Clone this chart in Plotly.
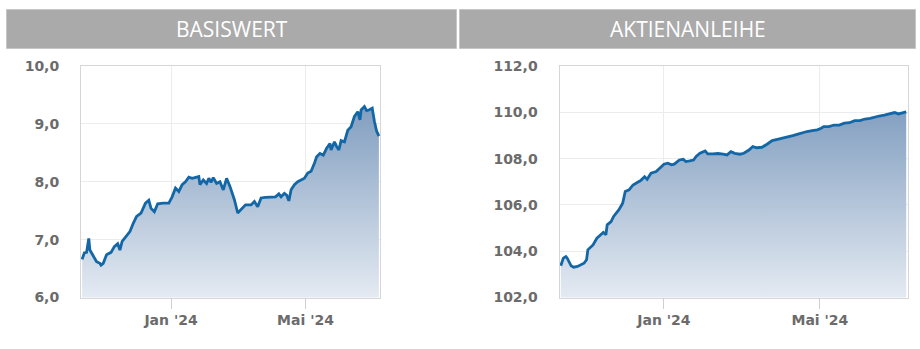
import plotly.graph_objects as go

# ---------------- data ----------------
basis_dates = [
    "2023-10-13", "2023-10-15", "2023-10-17", "2023-10-19", "2023-10-20", "2023-10-23",
    "2023-10-26", "2023-10-29", "2023-10-30", "2023-11-01", "2023-11-04", "2023-11-08",
    "2023-11-11", "2023-11-14", "2023-11-16", "2023-11-18", "2023-11-21", "2023-11-25",
    "2023-11-28", "2023-12-01", "2023-12-05", "2023-12-09", "2023-12-12", "2023-12-14",
    "2023-12-17", "2023-12-20", "2023-12-25", "2023-12-30", "2024-01-02", "2024-01-05",
    "2024-01-08", "2024-01-11", "2024-01-14", "2024-01-17", "2024-01-20", "2024-01-23",
    "2024-01-26", "2024-01-27", "2024-01-30", "2024-02-02", "2024-02-04", "2024-02-06",
    "2024-02-08", "2024-02-11", "2024-02-14", "2024-02-17", "2024-02-20", "2024-02-23",
    "2024-02-27", "2024-03-01", "2024-03-04", "2024-03-08", "2024-03-13", "2024-03-16",
    "2024-03-19", "2024-03-22", "2024-03-26", "2024-03-31", "2024-04-04", "2024-04-07",
    "2024-04-09", "2024-04-12", "2024-04-14", "2024-04-16", "2024-04-18", "2024-04-21",
    "2024-04-24", "2024-04-27", "2024-04-30", "2024-05-03", "2024-05-06", "2024-05-09",
    "2024-05-11", "2024-05-14", "2024-05-17", "2024-05-20", "2024-05-23", "2024-05-24",
    "2024-05-27", "2024-05-29", "2024-05-31", "2024-06-02", "2024-06-05", "2024-06-08",
    "2024-06-11", "2024-06-14", "2024-06-17", "2024-06-19", "2024-06-20", "2024-06-23",
    "2024-06-25", "2024-06-27", "2024-06-30", "2024-07-02", "2024-07-04", "2024-07-06",
]
basis_values = [
    6.66, 6.77, 6.78, 7.02, 6.82, 6.71,
    6.62, 6.59, 6.56, 6.59, 6.74, 6.78,
    6.88, 6.93, 6.82, 6.97, 7.04, 7.14,
    7.28, 7.40, 7.46, 7.63, 7.68, 7.54,
    7.48, 7.62, 7.63, 7.63, 7.74, 7.89,
    7.83, 7.95, 8.00, 8.08, 8.06, 8.08,
    8.09, 7.95, 8.03, 7.97, 8.06, 7.99,
    8.07, 7.97, 8.00, 7.86, 8.06, 7.92,
    7.69, 7.46, 7.52, 7.60, 7.60, 7.66,
    7.57, 7.72, 7.73, 7.74, 7.74, 7.79,
    7.74, 7.80, 7.77, 7.67, 7.86, 7.95,
    8.00, 8.03, 8.06, 8.15, 8.18, 8.32,
    8.43, 8.49, 8.46, 8.58, 8.66, 8.55,
    8.69, 8.61, 8.55, 8.71, 8.69, 8.89,
    8.95, 9.13, 9.21, 9.07, 9.24, 9.30,
    9.23, 9.24, 9.27, 9.04, 8.87, 8.79,
]

anleihe_dates = [
    "2023-10-13", "2023-10-15", "2023-10-17", "2023-10-18", "2023-10-21", "2023-10-23",
    "2023-10-26", "2023-10-28", "2023-10-31", "2023-11-02", "2023-11-03", "2023-11-07",
    "2023-11-10", "2023-11-13", "2023-11-15", "2023-11-17", "2023-11-18", "2023-11-21",
    "2023-11-23", "2023-11-25", "2023-11-27", "2023-11-30", "2023-12-02", "2023-12-05",
    "2023-12-08", "2023-12-11", "2023-12-14", "2023-12-17", "2023-12-19", "2023-12-22",
    "2023-12-26", "2023-12-30", "2024-01-01", "2024-01-04", "2024-01-07", "2024-01-09",
    "2024-01-13", "2024-01-16", "2024-01-18", "2024-01-21", "2024-01-24", "2024-01-26",
    "2024-01-29", "2024-02-02", "2024-02-04", "2024-02-08", "2024-02-12", "2024-02-16",
    "2024-02-19", "2024-02-22", "2024-02-25", "2024-02-29", "2024-03-03", "2024-03-07",
    "2024-03-10", "2024-03-13", "2024-03-17", "2024-03-21", "2024-03-25", "2024-03-29",
    "2024-04-02", "2024-04-06", "2024-04-10", "2024-04-14", "2024-04-17", "2024-04-21",
    "2024-04-25", "2024-04-29", "2024-05-02", "2024-05-04", "2024-05-08", "2024-05-12",
    "2024-05-16", "2024-05-20", "2024-05-24", "2024-05-28", "2024-06-01", "2024-06-05",
    "2024-06-09", "2024-06-13", "2024-06-16", "2024-06-20", "2024-06-24", "2024-06-28",
    "2024-07-01", "2024-07-03", "2024-07-07",
]
anleihe_values = [
    103.37, 103.70, 103.77, 103.70, 103.37, 103.31,
    103.34, 103.41, 103.48, 103.63, 104.06, 104.27,
    104.56, 104.71, 104.81, 104.71, 105.14, 105.28,
    105.50, 105.64, 105.78, 106.07, 106.58, 106.65,
    106.86, 106.96, 107.05, 107.22, 107.11, 107.37,
    107.44, 107.65, 107.76, 107.80, 107.73, 107.76,
    107.94, 107.97, 107.87, 107.90, 107.94, 108.09,
    108.23, 108.33, 108.20, 108.20, 108.22, 108.19,
    108.16, 108.30, 108.23, 108.19, 108.23, 108.37,
    108.52, 108.47, 108.49, 108.62, 108.78, 108.83,
    108.88, 108.92, 108.99, 109.06, 109.12, 109.17,
    109.21, 109.24, 109.31, 109.38, 109.38, 109.45,
    109.45, 109.53, 109.55, 109.64, 109.64, 109.71,
    109.74, 109.81, 109.84, 109.88, 109.93, 109.99,
    109.93, 109.96, 110.02,
]

panel_titles = ["BASISWERT", "AKTIENANLEIHE"]
x_tick_vals = ["2024-01-01", "2024-05-01"]
x_tick_text = ["Jan '24", "Mai '24"]
basis_y_ticks = [6, 7, 8, 9, 10]
anleihe_y_ticks = [102, 104, 106, 108, 110, 112]

# ---------------- style ----------------
W, H = 920, 349
LINE = "#1467a6"
GRID = "#ececec"
BORDER = "#d6d6d6"
TICKFONT = dict(family="DejaVu Sans", size=14, color="#6b6b6b", weight="bold")

def px_x(p):
    return p / W

def px_y(p):
    return 1 - p / H

fig = go.Figure()

grad_dark = "rgb(108,142,181)"
grad_light = "rgb(228,234,242)"

fig.add_trace(go.Scatter(
    x=basis_dates, y=basis_values, mode="lines",
    line=dict(color=LINE, width=2.8),
    fill="tozeroy",
    fillgradient=dict(type="vertical", start=basis_y_ticks[0], stop=basis_y_ticks[-1],
                      colorscale=[[0, grad_light], [1, grad_dark]]),
    xaxis="x", yaxis="y", showlegend=False, hoverinfo="skip",
))
fig.add_trace(go.Scatter(
    x=anleihe_dates, y=anleihe_values, mode="lines",
    line=dict(color=LINE, width=2.8),
    fill="tozeroy",
    fillgradient=dict(type="vertical", start=anleihe_y_ticks[0], stop=anleihe_y_ticks[-1],
                      colorscale=[[0, grad_light], [1, grad_dark]]),
    xaxis="x2", yaxis="y2", showlegend=False, hoverinfo="skip",
))

ydom = [px_y(297.5), px_y(66)]

def xaxis_cfg(dom, anchor, rng):
    return dict(
        domain=dom, anchor=anchor, type="date", range=rng,
        tickmode="array", tickvals=x_tick_vals, ticktext=x_tick_text,
        showgrid=True, gridcolor=GRID, gridwidth=1,
        showline=True, linecolor=BORDER, linewidth=1, mirror=True,
        ticks="outside", ticklen=10, tickcolor="#cfcfcf", tickwidth=1,
        tickfont=TICKFONT, zeroline=False, fixedrange=True, automargin=False,
    )

def yaxis_cfg(anchor, ticks):
    return dict(
        domain=ydom, anchor=anchor, range=[ticks[0], ticks[-1]],
        tickmode="array", tickvals=ticks, tickformat=".1f",
        showgrid=True, gridcolor=GRID, gridwidth=1,
        showline=True, linecolor=BORDER, linewidth=1, mirror=True,
        ticks="", ticklabelstandoff=18,
        tickfont=TICKFONT, zeroline=False, fixedrange=True, automargin=False,
    )

fig.update_layout(
    width=W, height=H,
    autosize=False,
    margin=dict(l=0, r=0, t=0, b=0, pad=0),
    paper_bgcolor="white", plot_bgcolor="white",
    separators=",.",
    xaxis=xaxis_cfg([px_x(81), px_x(380)], "y", ["2023-10-12", "2024-07-07"]),
    yaxis=yaxis_cfg("x", basis_y_ticks),
    xaxis2=xaxis_cfg([px_x(559.5), px_x(907.5)], "y2", ["2023-10-12", "2024-07-08"]),
    yaxis2=yaxis_cfg("x2", anleihe_y_ticks),
)

# header bars
headers = [(6.5, 456.5), (459.5, 915.5)]
for (x0, x1), title in zip(headers, panel_titles):
    fig.add_shape(type="rect", xref="paper", yref="paper",
                  x0=px_x(x0), x1=px_x(x1), y0=px_y(48.5), y1=px_y(9.5),
                  fillcolor="#aaaaaa", line=dict(color="#c6c6c6", width=1))
    fig.add_annotation(xref="paper", yref="paper",
                       x=px_x((x0 + x1) / 2), y=px_y(29), text=title,
                       showarrow=False, xanchor="center", yanchor="middle",
                       font=dict(family="Open Sans", size=21, color="white"))

fig.write_html(
    "out.html",
    config={"displayModeBar": False},
    post_script="document.body.style.margin='0';document.body.style.padding='0';"
                "document.documentElement.style.overflow='hidden';",
)
